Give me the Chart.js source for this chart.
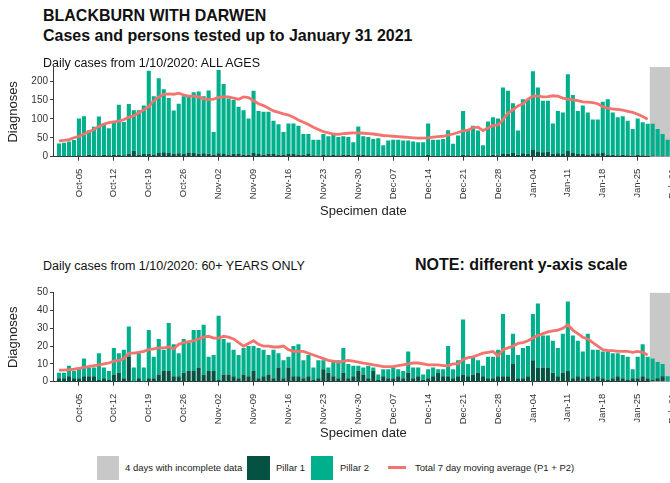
<!DOCTYPE html>
<html>
<head>
<meta charset="utf-8">
<script src="https://cdn.jsdelivr.net/npm/chart.js@4.4.1/dist/chart.umd.min.js"></script>
<style>
  html, body { margin: 0; padding: 0; background: #fff; }
  body { width: 670px; height: 483px; overflow: hidden; position: relative;
         font-family: "Liberation Sans", Arial, sans-serif; color: #111; }
  canvas { position: absolute; left: 0; }
  .txt { position: absolute; white-space: nowrap; line-height: 1; transform-origin: 0 0; }
  .title { font-size: 17px; font-weight: bold; transform: scaleX(0.94); }
  .sub { font-size: 12.5px; }
  .xt { font-size: 13px; color: #222; }
  .key { position: absolute; }
  .ktxt { position: absolute; white-space: nowrap; font-size: 9.5px; line-height: 1; color: #222; }
</style>
</head>
<body>
<canvas id="allAges" width="720" height="150" style="top:57px"></canvas>
<canvas id="over60" width="720" height="150" style="top:283px"></canvas>

<div class="txt title" style="left:43px;top:6.5px">BLACKBURN WITH DARWEN</div>
<div class="txt title" style="left:43px;top:26.5px">Cases and persons tested up to January 31 2021</div>
<div class="txt sub" style="left:43px;top:56.5px">Daily cases from 1/10/2020: ALL AGES</div>
<div class="txt xt" style="left:320px;top:203.5px">Specimen date</div>
<div class="txt sub" style="left:43px;top:259.5px">Daily cases from 1/10/2020: 60+ YEARS ONLY</div>
<div class="txt" style="left:415px;top:257px;font-size:16px;font-weight:bold">NOTE: different y-axis scale</div>
<div class="txt xt" style="left:320px;top:425.5px">Specimen date</div>

<div class="key" style="left:97px;top:456px;width:22px;height:24px;background:#c8c8c8"></div>
<div class="ktxt" style="left:125px;top:463px">4 days with incomplete data</div>
<div class="key" style="left:247px;top:456px;width:23px;height:24px;background:#065242"></div>
<div class="ktxt" style="left:276px;top:463px">Pillar 1</div>
<div class="key" style="left:311px;top:456px;width:22px;height:24px;background:#00b08c"></div>
<div class="ktxt" style="left:340px;top:463px">Pillar 2</div>
<div class="key" style="left:388px;top:466px;width:18px;height:3px;background:#f4736e"></div>
<div class="ktxt" style="left:415px;top:463px">Total 7 day moving average (P1 + P2)</div>

<script>
// days are counted from 1 Oct 2020 (day 0) to 31 Jan 2021 (day 122)
const X_TICK_DAYS = [4, 11, 18, 25, 32, 39, 46, 53, 60, 67, 74, 81, 88, 95, 102, 109, 116, 123];
const X_TICK_LABELS = ['Oct-05', 'Oct-12', 'Oct-19', 'Oct-26', 'Nov-02', 'Nov-09', 'Nov-16', 'Nov-23',
    'Nov-30', 'Dec-07', 'Dec-14', 'Dec-21', 'Dec-28', 'Jan-04', 'Jan-11', 'Jan-18', 'Jan-25', 'Feb-01'];
const INCOMPLETE_DAYS = [119, 120, 121, 122];

// all ages
const ALL_PILLAR1 = [2,3,2,3,4,3,5,4,3,5,4,6,5,4,8,16,6,7,8,6,10,12,10,8,9,7,11,10,8,9,8,6,9,7,6,8,7,6,5,10,
    7,6,8,7,5,6,7,8,6,5,7,4,3,6,4,5,4,6,5,3,6,5,4,3,4,2,3,4,3,4,3,2,3,2,6,3,2,3,4,2,
    3,5,4,3,4,2,4,5,4,7,8,10,5,9,8,18,14,12,13,8,9,7,15,10,7,8,6,7,9,10,6,5,4,5,4,3,5,4,3,3,
    2,3,1];
const ALL_PILLAR2 = [33,34,38,41,97,104,65,75,103,79,71,84,132,88,131,107,117,128,219,154,197,166,145,114,131,153,147,160,164,151,
    167,59,220,185,148,142,125,117,96,164,114,113,111,88,81,59,81,80,76,55,53,41,42,54,50,53,48,48,47,35,
    74,49,48,44,45,28,40,41,42,39,40,38,35,36,82,42,43,44,66,32,53,116,65,79,65,28,89,99,97,176,
    166,131,64,143,144,208,169,136,135,80,112,110,203,153,114,127,111,91,89,135,146,112,100,102,91,70,96,87,84,84,
    71,57,44];
const ALL_AVG = [42,43,45,50,54,60,66,72,80,86,90,92,94,98,104,108,116,124,132,148,158,165,166,165,168,163,160,160,158,153,
    151,152,157,158,158,155,152,158,156,148,140,135,128,121,117,113,110,104,97,91,85,78,72,66,63,60,59,61,62,63,
    63,62,61,60,58,56,55,54,53,52,51,50,49,49,50,52,53,54,57,60,64,68,70,77,78,69,76,82,84,98,
    115,124,134,140,152,160,160,158,159,161,160,155,152,150,148,145,144,143,140,132,128,126,125,123,120,117,112,106,99];
const ALL_Y_TICKS = [0, 50, 100, 150, 200];
const ALL_Y_MAX = 237;

// 60+ years only
const OLD_PILLAR1 = [2,2,3,2,2,3,3,3,1,2,1,4,5,2,14,0,2,0,2,2,4,6,6,3,3,5,6,6,8,4,
    6,6,1,4,4,3,2,4,3,6,2,3,4,2,8,2,8,3,3,2,3,1,2,7,5,3,2,5,2,3,
    6,4,2,6,1,3,2,2,3,2,5,2,3,1,2,3,5,3,3,2,3,4,3,4,5,3,2,2,3,3,
    3,10,2,2,3,12,8,8,8,5,3,5,6,2,3,2,3,2,3,2,1,2,3,2,1,2,2,3,2,1,
    2,3,0];
const OLD_PILLAR2 = [3,3,6,4,6,10,5,5,15,6,5,15,11,16,17,8,14,8,27,12,20,12,27,18,13,19,16,23,21,28,
    8,9,36,20,18,15,13,15,17,14,17,15,11,16,8,10,6,17,18,10,12,7,10,5,3,9,10,14,8,6,
    3,4,7,2,3,4,5,6,4,4,12,6,5,3,5,5,2,4,17,5,9,31,7,10,7,6,12,12,15,35,
    12,17,13,17,17,26,36,18,18,18,16,22,39,24,20,15,24,16,15,15,16,14,13,13,13,5,12,18,12,12,
    9,7,3];
const OLD_AVG = [6.5,6.5,6.8,7,7.5,8,8.5,9,9.5,10,10.5,11.5,12,13,16,16,16.5,17,18,18.5,19,19,19.5,18.5,21,22,22.5,23,24,25,
    25.5,24.5,24.5,25.5,25,24,22,20,21.5,23,21,20,20,19.5,19.5,20,18,17,17,17,16,15,14,13,12,11.5,11,11.5,12,11.5,
    11,10.5,10,9.5,9,8.5,8.5,8.5,9,9.5,10,10.5,10.5,10,9.5,9.5,9.5,9,9,10,10,12.5,13.5,14,15,16,16.5,17,14.5,18,
    19,20,21.5,22,23,24.5,26,27,28,28.5,29,30,32,29,27,25,24,22,20,18,17.5,17.5,17,17,17,16.5,17,16.5,15];
const OLD_Y_TICKS = [0, 10, 20, 30, 40, 50];
const OLD_Y_MAX = 50;

const TEAL = '#00b08c';
const DARK = '#065242';
const GREY = '#c8c8c8';
const RED = '#f4736e';
const AXIS = '#3a3a3a';

// x range chosen so the plot runs off the right edge like the original
const X_MIN = -1.2;
const X_MAX = 132.5;

function toXY(arr) {
    return arr.map((v, i) => ({ x: i, y: v }));
}

function makeChart(id, pillar1, pillar2, avg, yTicks, yMax, padTop, xAxisHeight) {
    return new Chart(document.getElementById(id), {
        data: {
            datasets: [
                {
                    type: 'line', label: 'Total 7 day moving average (P1 + P2)', data: toXY(avg),
                    borderColor: RED, borderWidth: 2.8, pointRadius: 0, tension: 0, stack: 'avg', order: 1
                },
                {
                    type: 'bar', label: 'Pillar 1', data: toXY(pillar1), backgroundColor: DARK,
                    barPercentage: 0.82, categoryPercentage: 1, stack: 'pillars', order: 2
                },
                {
                    type: 'bar', label: 'Pillar 2', data: toXY(pillar2), backgroundColor: TEAL,
                    barPercentage: 0.82, categoryPercentage: 1, stack: 'pillars', order: 2
                },
                {
                    type: 'bar', label: '4 days with incomplete data', yAxisID: 'yInc',
                    data: INCOMPLETE_DAYS.map(d => ({ x: d, y: 1 })), backgroundColor: GREY,
                    grouped: false, barPercentage: 1, categoryPercentage: 1, order: 3
                }
            ]
        },
        options: {
            responsive: false,
            animation: false,
            devicePixelRatio: 1,
            events: [],
            layout: { padding: { top: padTop, left: 0, right: 0, bottom: 0 } },
            plugins: { legend: { display: false }, tooltip: { enabled: false } },
            scales: {
                x: {
                    type: 'linear', min: X_MIN, max: X_MAX, offset: false,
                    afterBuildTicks: axis => { axis.ticks = X_TICK_DAYS.map(d => ({ value: d })); },
                    afterFit: s => {
                        s.height = xAxisHeight;
                        s.paddingLeft = 0;
                        s.paddingRight = 0;
                    },
                    grid: { offset: false, drawOnChartArea: false, drawTicks: true, tickLength: 4, color: AXIS },
                    border: { color: AXIS },
                    ticks: {
                        autoSkip: false, minRotation: 90, maxRotation: 90, padding: 8,
                        font: { family: 'Liberation Sans', size: 9.5 }, color: '#333',
                        callback: v => X_TICK_LABELS[X_TICK_DAYS.indexOf(v)]
                    }
                },
                y: {
                    stacked: true, min: 0, max: yMax,
                    afterBuildTicks: axis => { axis.ticks = yTicks.map(v => ({ value: v })); },
                    afterFit: s => {
                        s.width = 53;
                        s.paddingTop = 0;
                        s.paddingBottom = 0;
                    },
                    grid: { drawOnChartArea: false, drawTicks: true, tickLength: 3, color: AXIS },
                    border: { color: AXIS },
                    ticks: { padding: 2, font: { family: 'Liberation Sans', size: 10 }, color: '#333' },
                    title: {
                        display: true, text: 'Diagnoses', color: '#222',
                        font: { family: 'Liberation Sans', size: 13 }, padding: { top: 6, bottom: 0 }
                    }
                },
                yInc: { display: false, min: 0, max: 1 }
            }
        }
    });
}

makeChart('allAges', ALL_PILLAR1, ALL_PILLAR2, ALL_AVG, ALL_Y_TICKS, ALL_Y_MAX, 10, 50.3);
makeChart('over60', OLD_PILLAR1, OLD_PILLAR2, OLD_AVG, OLD_Y_TICKS, OLD_Y_MAX, 9.7, 51.3);
</script>
</body>
</html>
